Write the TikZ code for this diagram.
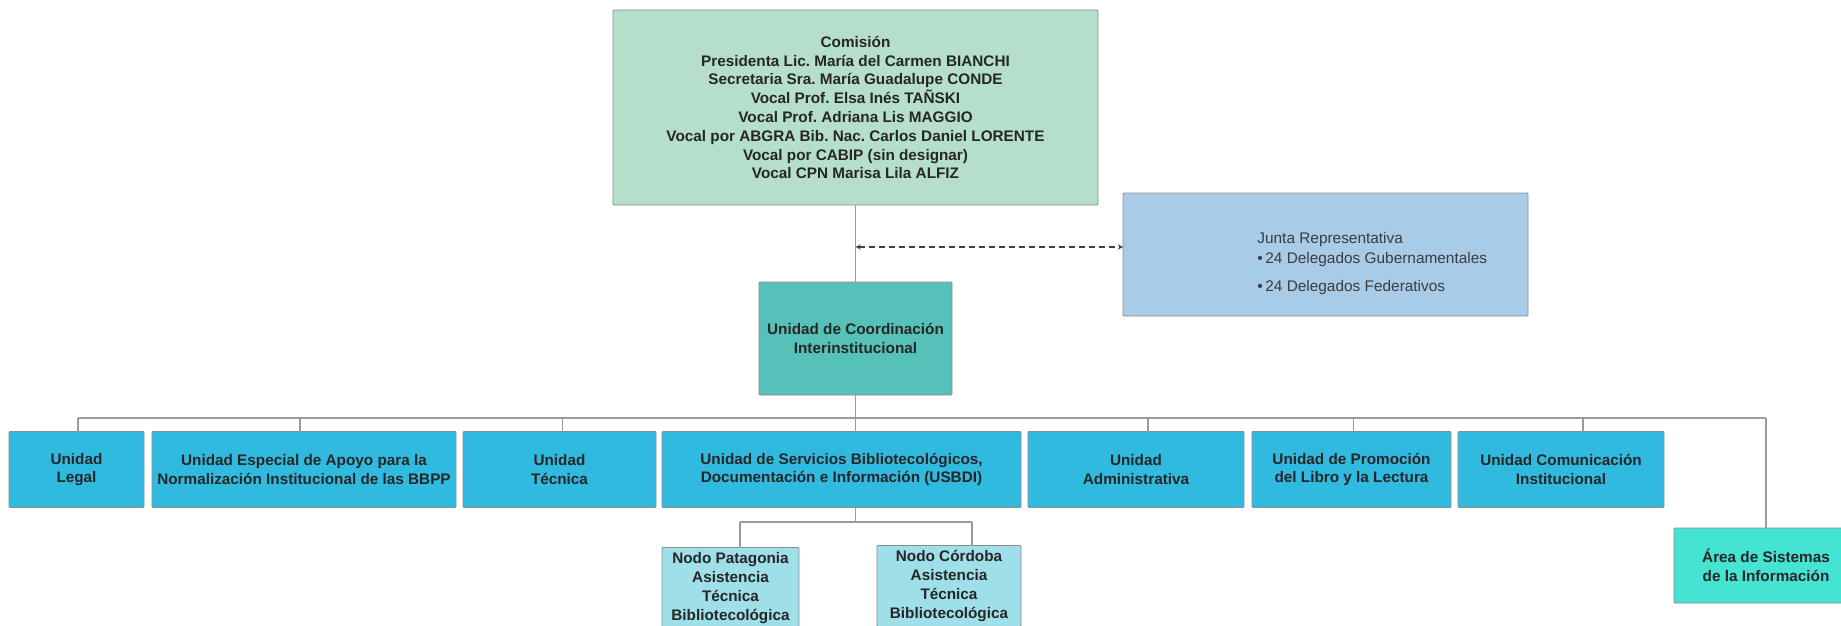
\documentclass[tikz,border=0pt]{standalone}
\usepackage{fontspec}
\setmainfont{Liberation Sans}
\usetikzlibrary{positioning}
\frenchspacing

\definecolor{comfill}{HTML}{B5DFCB}
\definecolor{juntafill}{HTML}{A8CBE8}
\definecolor{coordfill}{HTML}{56C1B8}
\definecolor{unitfill}{HTML}{31BAE0}
\definecolor{nodofill}{HTML}{9EDFE9}
\definecolor{areafill}{HTML}{45E3D2}
\definecolor{boxline}{HTML}{8C8C8C}
\definecolor{linegray}{HTML}{9A9A9A}
\definecolor{txtdark}{HTML}{262626}

\begin{document}
\begin{tikzpicture}[>=stealth, x=1pt, y=-1pt, node distance=7pt, thick,
    box/.style={draw=boxline, line width=0.8pt, rounded corners=1pt, inner sep=2pt, outer sep=0pt,
        align=center, text=txtdark, font=\fontsize{15.3pt}{18.8pt}\selectfont\bfseries},
    unit/.style={box, fill=unitfill, minimum height=76pt},
    nodo/.style={box, fill=nodofill, minimum height=81pt},
    listtext/.style={align=left, inner sep=0pt, text=txtdark!90, font=\fontsize{15.4pt}{20pt}\selectfont},
    link/.style={draw=linegray, line width=1.3pt},
    dashlink/.style={draw=black!75, line width=1.3pt, dash pattern=on 6pt off 4pt}]
    \fill[white] (0,0) rectangle (1841,626);
    \useasboundingbox (0,0) rectangle (1841,626);
    \clip (0,0) rectangle (1841,626);

    \node[box, fill=comfill, minimum width=485pt, minimum height=195pt] (comision) at (855.5,107.5)
        {Comisión\\Presidenta Lic. María del Carmen BIANCHI\\Secretaria Sra. María Guadalupe CONDE\\Vocal Prof. Elsa Inés TAÑSKI\\Vocal Prof. Adriana Lis MAGGIO\\Vocal por ABGRA Bib. Nac. Carlos Daniel LORENTE\\Vocal por CABIP (sin designar)\\Vocal CPN Marisa Lila ALFIZ};
    \node[box, fill=coordfill, minimum width=193pt, minimum height=113pt] (coord) at (855.5,338.5)
        {Unidad de Coordinación\\Interinstitucional};
    \node[box, fill=juntafill, minimum width=405pt, minimum height=123pt] (junta) at (1325.5,254.5) {};
    \node[listtext, right=134pt of junta.west, yshift=-9pt] (juntalist)
        {Junta Representativa\\\textbullet\,24 Delegados Gubernamentales\\[8pt]\textbullet\,24 Delegados Federativos};

    \node[unit, minimum width=135pt] (legal) at (76.5,469.5) {Unidad\\Legal};
    \node[unit, minimum width=304pt, right=8pt of legal] (especial) {Unidad Especial de Apoyo para la\\Normalización Institucional de las BBPP};
    \node[unit, minimum width=193pt, right=7pt of especial] (tecnica) {Unidad\\Técnica};
    \node[unit, minimum width=359pt, right=6pt of tecnica] (usbdi) {Unidad de Servicios Bibliotecológicos,\\Documentación e Información (USBDI)};
    \node[unit, minimum width=216pt, right=7pt of usbdi] (admin) {Unidad\\Administrativa};
    \node[unit, minimum width=199pt, right=8pt of admin] (promo) {Unidad de Promoción\\del Libro y la Lectura};
    \node[unit, minimum width=206pt, right=7pt of promo] (comunic) {Unidad Comunicación\\Institucional};
    \node[box, fill=areafill, minimum width=184pt, minimum height=75pt] (sistemas) at (1766,565.5) {Área de Sistemas\\de la Información};

    \node[nodo, minimum width=137pt, below=40pt of usbdi.south west, anchor=north west] (patag) {Nodo Patagonia\\Asistencia\\Técnica\\Bibliotecológica};
    \node[nodo, minimum width=144pt, below=38pt of usbdi.south east, anchor=north east] (cordoba) {Nodo Córdoba\\Asistencia\\Técnica\\Bibliotecológica};

    \coordinate (busL) at (78,418);
    \coordinate (busR) at (1766,418);
    \coordinate (tap) at (855.5,247);
    \coordinate (subL) at (740,522);
    \coordinate (subR) at (972,522);

    \draw[link]
    (comision) -- (coord)
    (coord.south) -- (usbdi.north -| coord.south)
    (busL) -- (busR)
    (busL) -- (busL |- legal.north)
    ([xshift=-4pt]especial.north) -- ([xshift=-4pt]especial.north |- busL)
    ([xshift=3pt]tecnica.north) -- ([xshift=3pt]tecnica.north |- busL)
    ([xshift=12pt]admin.north) -- ([xshift=12pt]admin.north |- busL)
    ([xshift=2pt]promo.north) -- ([xshift=2pt]promo.north |- busL)
    ([xshift=22pt]comunic.north) -- ([xshift=22pt]comunic.north |- busL)
    (busR) -- (sistemas.north)
    (usbdi.south -| coord.south) -- (coord.south |- subL)
    (subL) -- (subR)
    (subL) -- (subL |- patag.north)
    (subR) -- (subR |- cordoba.north);
    \draw[dashlink, <->] (tap) -- (tap -| junta.west);
\end{tikzpicture}
\end{document}
